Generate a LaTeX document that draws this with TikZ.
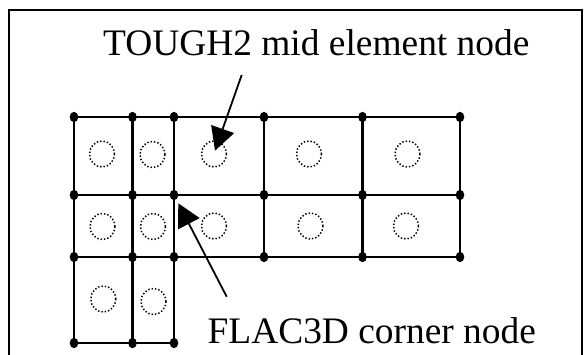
\documentclass[tikz,border=0pt]{standalone}
\usepackage{fontspec}
\setmainfont{Liberation Serif}
\usetikzlibrary{arrows.meta,shapes.geometric}
\tikzset{
  gridline/.style={line width=2.4pt, line cap=rect},
  frameline/.style={line width=2.8pt},
  cornerdot/.style={ellipse, fill=black, inner sep=0pt, minimum width=8.6pt, minimum height=10.4pt},
  midnode/.style={ellipse, draw=black, line width=1.5pt, dash pattern=on 1.4pt off 2pt, inner sep=0pt, minimum width=25pt, minimum height=26pt},
  label/.style={font=\fontsize{37.4}{44}\selectfont, inner sep=0pt, anchor=base west},
  pointer/.style={line width=1.8pt, -{Triangle[length=23pt,width=24pt]}}
}
\begin{document}
\begin{tikzpicture}[x=1pt,y=-1pt]
\useasboundingbox (0,0) rectangle (587,354);
% frame
\draw[frameline] (9,356) -- (9,10) -- (582,10) -- (582,356);
% corner coordinates
\foreach \c/\x in {1/74,2/132.5,3/174,4/264,5/362.5,6/460}{
  \foreach \r/\y in {1/117,2/195,3/257}{
    \coordinate (p\r\c) at (\x,\y);
  }
}
\coordinate (p41) at (74,343);
\coordinate (p42) at (132.5,343);
\coordinate (p43) at (174,343);
% grid lines
\draw[gridline] (p11) -- (p16);
\draw[gridline] (p21) -- (p26);
\draw[gridline] (p31) -- (p36);
\draw[gridline] (p41) -- (p43);
\draw[gridline] (p11) -- (p41);
\draw[gridline] (p12) -- (p42);
\draw[gridline] (p13) -- (p43);
\draw[gridline] (p14) -- (p34);
\draw[gridline] (p15) -- (p35);
\draw[gridline] (p16) -- (p36);
% corner nodes (FLAC3D)
\foreach \n in {11,12,13,14,15,16,21,22,23,24,25,26,31,32,33,34,35,36,41,42,43}{
  \node[cornerdot] (d\n) at (p\n) {};
}
% mid element nodes (TOUGH2)
\node[midnode] (m11) at (102,154) {};
\node[midnode] (m12) at (152.5,154.5) {};
\node[midnode] (m13) at (214,154) {};
\node[midnode] (m14) at (309,154) {};
\node[midnode] (m15) at (407.5,154) {};
\node[midnode] (m21) at (102.5,226.5) {};
\node[midnode] (m22) at (153,226.5) {};
\node[midnode] (m23) at (214,226) {};
\node[midnode] (m24) at (310.5,226) {};
\node[midnode] (m25) at (406,226) {};
\node[midnode] (m31) at (103.3,299) {};
\node[midnode] (m32) at (153.5,301.5) {};
% labels
\node[label] (tough) at (103,55) {TOUGH2 mid element node};
\node[label] (flac) at (207.5,343) {FLAC3D corner node};
% pointers
\coordinate (t1) at (241.7,75);
\coordinate (h1) at (215,150.7);
\coordinate (t2) at (226.7,296.7);
\coordinate (h2) at (178.3,203.3);
\draw[pointer] (t1) -- (h1);
\draw[pointer] (t2) -- (h2);
\end{tikzpicture}
\end{document}
